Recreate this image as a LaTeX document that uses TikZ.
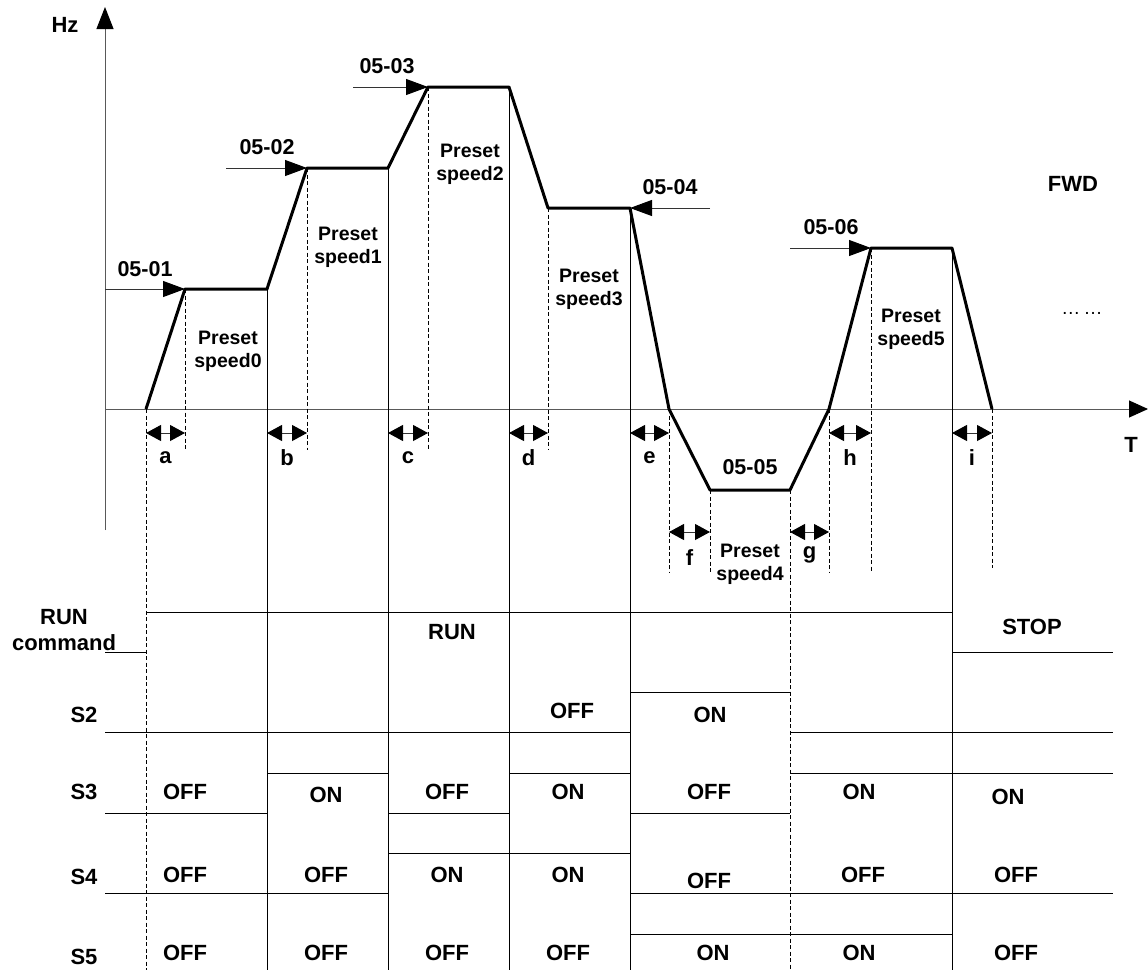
\documentclass[tikz,border=0pt]{standalone}
\usepackage{fontspec}
\setmainfont{Liberation Sans}
\usetikzlibrary{arrows.meta}
\begin{document}
\begin{tikzpicture}[x=1pt,y=-1pt,
  axisline/.style={line width=1pt,draw=black!65},
  thinline/.style={line width=1pt},
  wave/.style={line width=3pt,line join=round},
  dashline/.style={line width=1pt,dash pattern=on 4pt off 2.5pt},
  parm/.style={line width=1pt,draw=black!80,-{Triangle[length=22pt,width=16pt,color=black]}},
  spanarrow/.style={line width=1pt,draw=black!80,{Triangle[length=15pt,width=16pt,color=black]}-{Triangle[length=15pt,width=16pt,color=black]}},
  lab/.style={font=\bfseries\fontsize{22}{26}\selectfont,inner sep=0pt,align=center},
  plab/.style={font=\bfseries\fontsize{21.5}{26}\selectfont,inner sep=0pt},
  presetlab/.style={font=\bfseries\fontsize{19.5}{23}\selectfont,align=center,inner sep=0pt},
]
\useasboundingbox (0,0) rectangle (1148,970);

% axes
\coordinate (yb) at (105,530);
\coordinate (yt) at (105,7);
\coordinate (xl) at (105,409);
\coordinate (xr) at (1148,409);
\draw[axisline,-{Triangle[length=22pt,width=17pt,color=black]}] (yb) -- (yt);
\draw[axisline,-{Triangle[length=19pt,width=17pt,color=black]}] (xl) -- (xr);
\node[lab] (hz) at (65,25) {Hz};
\node[lab] (tt) at (1131,445) {T};

% waveform points
\coordinate (p0) at (146,409);
\coordinate (p1) at (185,289);
\coordinate (p2) at (267,289);
\coordinate (p3) at (307,168);
\coordinate (p4) at (388,168);
\coordinate (p5) at (428,87);
\coordinate (p6) at (509,87);
\coordinate (p7) at (548,208);
\coordinate (p8) at (630,208);
\coordinate (p9) at (669,409);
\coordinate (p10) at (710,490);
\coordinate (p11) at (790,490);
\coordinate (p12) at (829,409);
\coordinate (p13) at (871,248);
\coordinate (p14) at (952,248);
\coordinate (p15) at (992,409);

% solid verticals
\foreach \p/\x in {p2/267,p4/388,p6/509,p14/952} {
  \draw[thinline] (\p) -- (\x,970);
}
\coordinate (v8) at (630,214);
\draw[thinline] (v8) -- (630,970);

% dashed verticals
\draw[dashline] (p0) -- (146,970);
\draw[dashline] (p11) -- (790,970);
\foreach \p/\x in {p1/185,p3/307,p5/428,p7/548} {
  \draw[dashline] (\p) -- (\x,450);
}
\foreach \p/\x in {p9/669,p10/710,p12/829,p13/871} {
  \draw[dashline] (\p) -- (\x,572);
}
\draw[dashline] (p15) -- (992,568);

% waveform
\draw[wave] (p0) -- (p1) -- (p2) -- (p3) -- (p4) -- (p5) -- (p6) -- (p7) -- (p8)
  -- (p9) -- (p10) -- (p11) -- (p12) -- (p13) -- (p14) -- (p15);

% parameter arrows
\coordinate (q1) at (105,289);
\coordinate (q2) at (226,168);
\coordinate (q3) at (353,87);
\coordinate (q4) at (710,208);
\coordinate (q6) at (790,248);
\draw[parm] (q1) -- (p1);
\draw[parm] (q2) -- (p3);
\draw[parm] (q3) -- (p5);
\draw[parm] (q4) -- (p8);
\draw[parm] (q6) -- (p13);
\node[plab] (l01) at (145,269) {05-01};
\node[plab] (l02) at (267,147) {05-02};
\node[plab] (l03) at (387,66) {05-03};
\node[plab] (l04) at (670,187) {05-04};
\node[plab] (l05) at (750,467) {05-05};
\node[plab] (l06) at (831,227) {05-06};

% preset labels
\node[presetlab] (ps0) at (228,351) {Preset\\speed0};
\node[presetlab] (ps1) at (348,247) {Preset\\speed1};
\node[presetlab] (ps2) at (470,164) {Preset\\speed2};
\node[presetlab] (ps3) at (589,289) {Preset\\speed3};
\node[presetlab] (ps4) at (750,564) {Preset\\speed4};
\node[presetlab] (ps5) at (911,329) {Preset\\speed5};
\node[lab] (fwd) at (1073,184) {FWD};
\node[font=\fontsize{19}{22}\selectfont,inner sep=0pt] (dots) at (1082,313) {…\,…};

% span arrows
\foreach \n/\xa/\xb/\y/\ly in {a/146/185/433/458, b/267/307/433/458, c/388/428/433/458,
  d/509/548/433/458, e/630/669/433/458, h/829/871/433/458, i/952/992/433/458,
  f/669/710/532/558, g/790/829/532/555} {
  \coordinate (sa\n) at (\xa,\y);
  \coordinate (sb\n) at (\xb,\y);
  \draw[spanarrow] (sa\n) -- (sb\n);
  \node[lab] (sl\n) at ({(\xa+\xb)/2},\ly) {\n};
}

% timing chart: RUN command
\coordinate (r0) at (105,652);
\coordinate (r1) at (146,652);
\coordinate (r2) at (146,612);
\coordinate (r3) at (952,612);
\coordinate (r4) at (952,652);
\coordinate (r5) at (1113,652);
\draw[thinline] (r0) -- (r1);
\draw[thinline] (r2) -- (r3);
\draw[thinline] (r4) -- (r5);

% S2
\coordinate (a0) at (105,732);
\coordinate (a1) at (630,732);
\coordinate (a2) at (630,692);
\coordinate (a3) at (790,692);
\coordinate (a4) at (790,732);
\coordinate (a5) at (1113,732);
\draw[thinline] (a0) -- (a1);
\draw[thinline] (a2) -- (a3);
\draw[thinline] (a4) -- (a5);

% S3
\draw[thinline] (105,813) -- (267,813);
\draw[thinline] (267,773) -- (388,773);
\draw[thinline] (388,813) -- (509,813);
\draw[thinline] (509,773) -- (630,773);
\draw[thinline] (630,813) -- (790,813);
\draw[thinline] (790,773) -- (1113,773);

% S4
\draw[thinline] (105,893) -- (388,893);
\draw[thinline] (388,853) -- (630,853);
\draw[thinline] (630,893) -- (1113,893);

% S5
\draw[thinline] (630,934) -- (952,934);

% row names
\node[lab] (runcmd) at (64,630) {RUN\\command};
\node[lab] (s2) at (84,715) {S2};
\node[lab] (s3) at (84,792) {S3};
\node[lab] (s4) at (84,877) {S4};
\node[lab] (s5) at (84,957) {S5};

% state labels
\node[lab] (run) at (452,632) {RUN};
\node[lab] (stop) at (1032,627) {STOP};
\node[lab] (s2off) at (572,711) {OFF};
\node[lab] (s2on) at (710,715) {ON};

\foreach \k/\x/\y/\t in {1/185/792/OFF, 2/326/795/ON, 3/447/792/OFF, 4/568/792/ON,
  5/709/792/OFF, 6/859/792/ON, 7/1008/797/ON} {
  \node[lab] (s3l\k) at (\x,\y) {\t};
}
\foreach \k/\x/\y/\t in {1/185/875/OFF, 2/326/875/OFF, 3/447/875/ON, 4/568/875/ON,
  5/709/881/OFF, 6/863/875/OFF, 7/1016/875/OFF} {
  \node[lab] (s4l\k) at (\x,\y) {\t};
}
\foreach \k/\x/\y/\t in {1/185/953/OFF, 2/326/953/OFF, 3/447/953/OFF, 4/568/953/OFF,
  5/713/953/ON, 6/859/953/ON, 7/1016/953/OFF} {
  \node[lab] (s5l\k) at (\x,\y) {\t};
}
\end{tikzpicture}
\end{document}
